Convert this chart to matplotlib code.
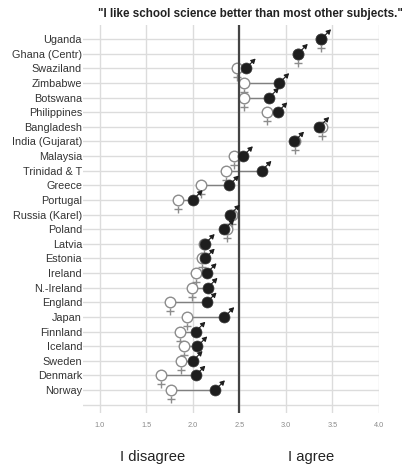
import numpy as np
import matplotlib
matplotlib.use("Agg")
import matplotlib.pyplot as plt
from matplotlib.path import Path

plt.rcParams['font.family'] = ['Liberation Sans', 'DejaVu Sans']

# ---------------------------------------------------------------
# mean agreement per country (1 = disagree, 4 = agree)
# ---------------------------------------------------------------
countries = ["Uganda", "Ghana (Centr)", "Swaziland", "Zimbabwe", "Botswana",
             "Philippines", "Bangladesh", "India (Gujarat)", "Malaysia",
             "Trinidad & T", "Greece", "Portugal", "Russia (Karel)", "Poland",
             "Latvia", "Estonia", "Ireland", "N.-Ireland", "England", "Japan",
             "Finnland", "Iceland", "Sweden", "Denmark", "Norway"]

boys = [3.38, 3.13, 2.57, 2.93, 2.82, 2.91, 3.36, 3.09, 2.54, 2.74, 2.39, 2.00,
        2.40, 2.34, 2.13, 2.13, 2.15, 2.16, 2.15, 2.34, 2.03, 2.05, 2.00, 2.03, 2.24]

girls = [3.38, 3.13, 2.47, 2.55, 2.55, 2.80, 3.39, 3.10, 2.44, 2.36, 2.09, 1.84,
         2.42, 2.37, 2.12, 2.10, 2.03, 1.99, 1.75, 1.94, 1.86, 1.91, 1.87, 1.66, 1.77]

xticks = [1.0, 1.5, 2.0, 2.5, 3.0, 3.5, 4.0]
midpoint = 2.5

rows = np.arange(len(countries))

fig = plt.figure(figsize=(4.06, 4.67), dpi=100)
ax = fig.add_axes([0.2044, 0.1156, 0.7291, 0.8309])

# gridlines: one per country plus an empty row at the bottom
ax.set_yticks(np.arange(len(countries) + 1))
ax.set_yticklabels(countries + [""], fontsize=7.8, color="#333333")
ax.set_xticks(xticks)
ax.set_xticklabels([f"{t:.1f}" for t in xticks], fontsize=5.3, color="#8a8a8a")
ax.tick_params(length=0)
ax.tick_params(axis='y', pad=0.7)
ax.tick_params(axis='x', pad=6.5)
ax.grid(True, color="#dcdcdc", linewidth=1.0)
ax.set_axisbelow(True)
for s in ax.spines.values():
    s.set_visible(False)

ax.set_xlim(0.82, 4.0)
ax.set_ylim(25.57, -0.96)

# neutral line
ax.axvline(midpoint, color="#444444", linewidth=1.6, zorder=3)

# connectors girl -> boy
ax.hlines(rows, girls, boys, color="#808080", linewidth=1.0, zorder=2)

# female symbol: open circle with cross underneath
cross = Path([(0, -5.5), (0, -12.5), (-4, -9), (4, -9)],
             [Path.MOVETO, Path.LINETO, Path.MOVETO, Path.LINETO])
ax.plot(girls, rows, ls='', marker=cross, markersize=18, markerfacecolor='none',
        markeredgecolor="#8c8c8c", markeredgewidth=1.0, zorder=2.5)
ax.plot(girls, rows, ls='', marker='o', markersize=7.6, markerfacecolor='white',
        markeredgecolor="#8c8c8c", markeredgewidth=1.0, zorder=2.6)

# male symbol: filled circle with arrow to the upper right
ax.plot(boys, rows, ls='', marker='o', markersize=7.9, markerfacecolor="#1e1e1e",
        markeredgecolor="#3a3a3a", markeredgewidth=0.5, zorder=4)
for b, r in zip(boys, rows):
    ax.annotate('', xy=(b, r), xytext=(7, 7), textcoords='offset points',
                arrowprops=dict(arrowstyle='<|-,head_length=0.3,head_width=0.17',
                                color="#1e1e1e", lw=0.8, shrinkA=0, shrinkB=3.5,
                                mutation_scale=9),
                zorder=4)

fig.text(0.616, 0.970, "\"I like school science better than most other subjects.\"",
         ha='center', va='center', fontsize=8.35, fontweight='bold', color="#222222")

ax.text(1.57, -0.113, "I disagree", transform=ax.get_xaxis_transform(),
        ha='center', va='center', fontsize=10.6, color="#222222")
ax.text(3.27, -0.113, "I agree", transform=ax.get_xaxis_transform(),
        ha='center', va='center', fontsize=10.6, color="#222222")

fig.savefig("out.png", dpi=100)
